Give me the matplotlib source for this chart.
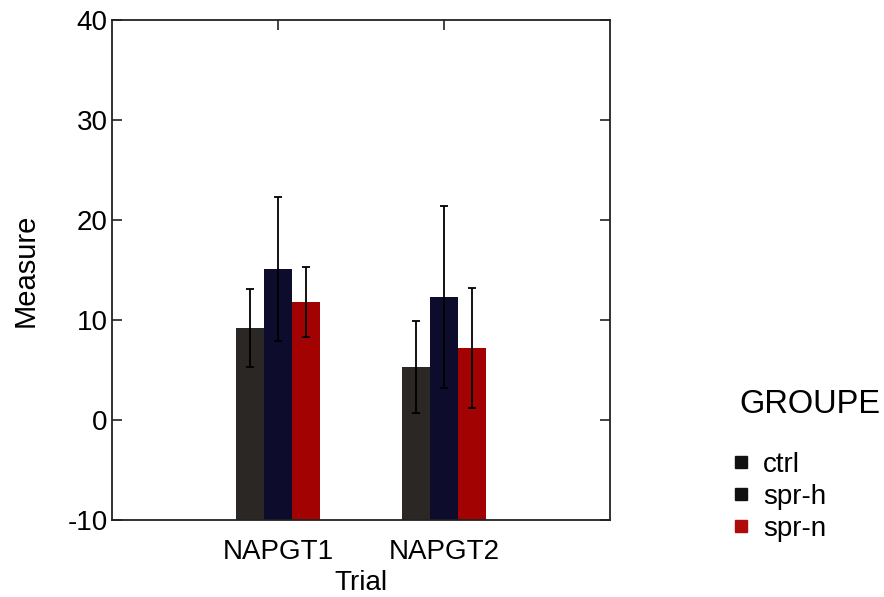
import matplotlib
matplotlib.use("Agg")
import matplotlib.pyplot as plt
import numpy as np

plt.rcParams['font.family'] = ['Liberation Sans', 'DejaVu Sans']
plt.rcParams['axes.unicode_minus'] = False

trials = ["NAPGT1", "NAPGT2"]
groups = ["ctrl", "spr-h", "spr-n"]
means = {
    "ctrl": [9.2, 5.3],
    "spr-h": [15.1, 12.3],
    "spr-n": [11.8, 7.2],
}
errors = {
    "ctrl": [3.9, 4.6],
    "spr-h": [7.2, 9.1],
    "spr-n": [3.5, 6.0],
}
bar_colors = {"ctrl": "#2b2724", "spr-h": "#0d0c2c", "spr-n": "#a30203"}
legend_colors = {"ctrl": "#111111", "spr-h": "#111111", "spr-n": "#b00a0a"}
ymin, ymax = -10, 40

fig = plt.figure(figsize=(8.84, 5.97), dpi=100)
ax = fig.add_axes([0.1267, 0.129, 0.5633, 0.8375])

x = np.arange(1, len(trials) + 1)
width = 0.17
for i, g in enumerate(groups):
    xs = x + (i - 1) * width
    vals = np.array(means[g])
    ax.bar(xs, vals - ymin, bottom=ymin, width=width, color=bar_colors[g],
           edgecolor='none', zorder=2)
    ax.errorbar(xs, vals, yerr=errors[g], fmt='none', ecolor='black',
                elinewidth=1.3, capsize=3, capthick=1.3, zorder=3)

ax.set_xlim(0, 3)
ax.set_ylim(ymin, ymax)
ax.set_yticks([-10, 0, 10, 20, 30, 40])
ax.set_xticks(x)
ax.set_xticklabels(trials)
ax.tick_params(axis='both', direction='in', length=7, width=1.2, labelsize=20,
               colors='#222222', labelcolor='black', top=True, right=True,
               bottom=False, pad=3)
ax.tick_params(axis='x', pad=14)
for s in ax.spines.values():
    s.set_linewidth(1.3)
    s.set_color('#222222')

ax.set_ylabel("Measure", fontsize=21, labelpad=20)
ax.set_xlabel("Trial", fontsize=20, labelpad=3)

# legend
fig.text(0.836, 0.323, "GROUPE", fontsize=23.5, ha='left', va='center')
handles = [plt.Line2D([], [], marker='s', linestyle='none', markersize=8,
                      color=legend_colors[g]) for g in groups]
leg = fig.legend(handles, groups, loc='upper left', bbox_to_anchor=(0.81, 0.262),
                 frameon=False, fontsize=20, handletextpad=0.3, labelspacing=0.22,
                 handlelength=1.0, borderaxespad=0)

fig.savefig("out.png", dpi=100)
